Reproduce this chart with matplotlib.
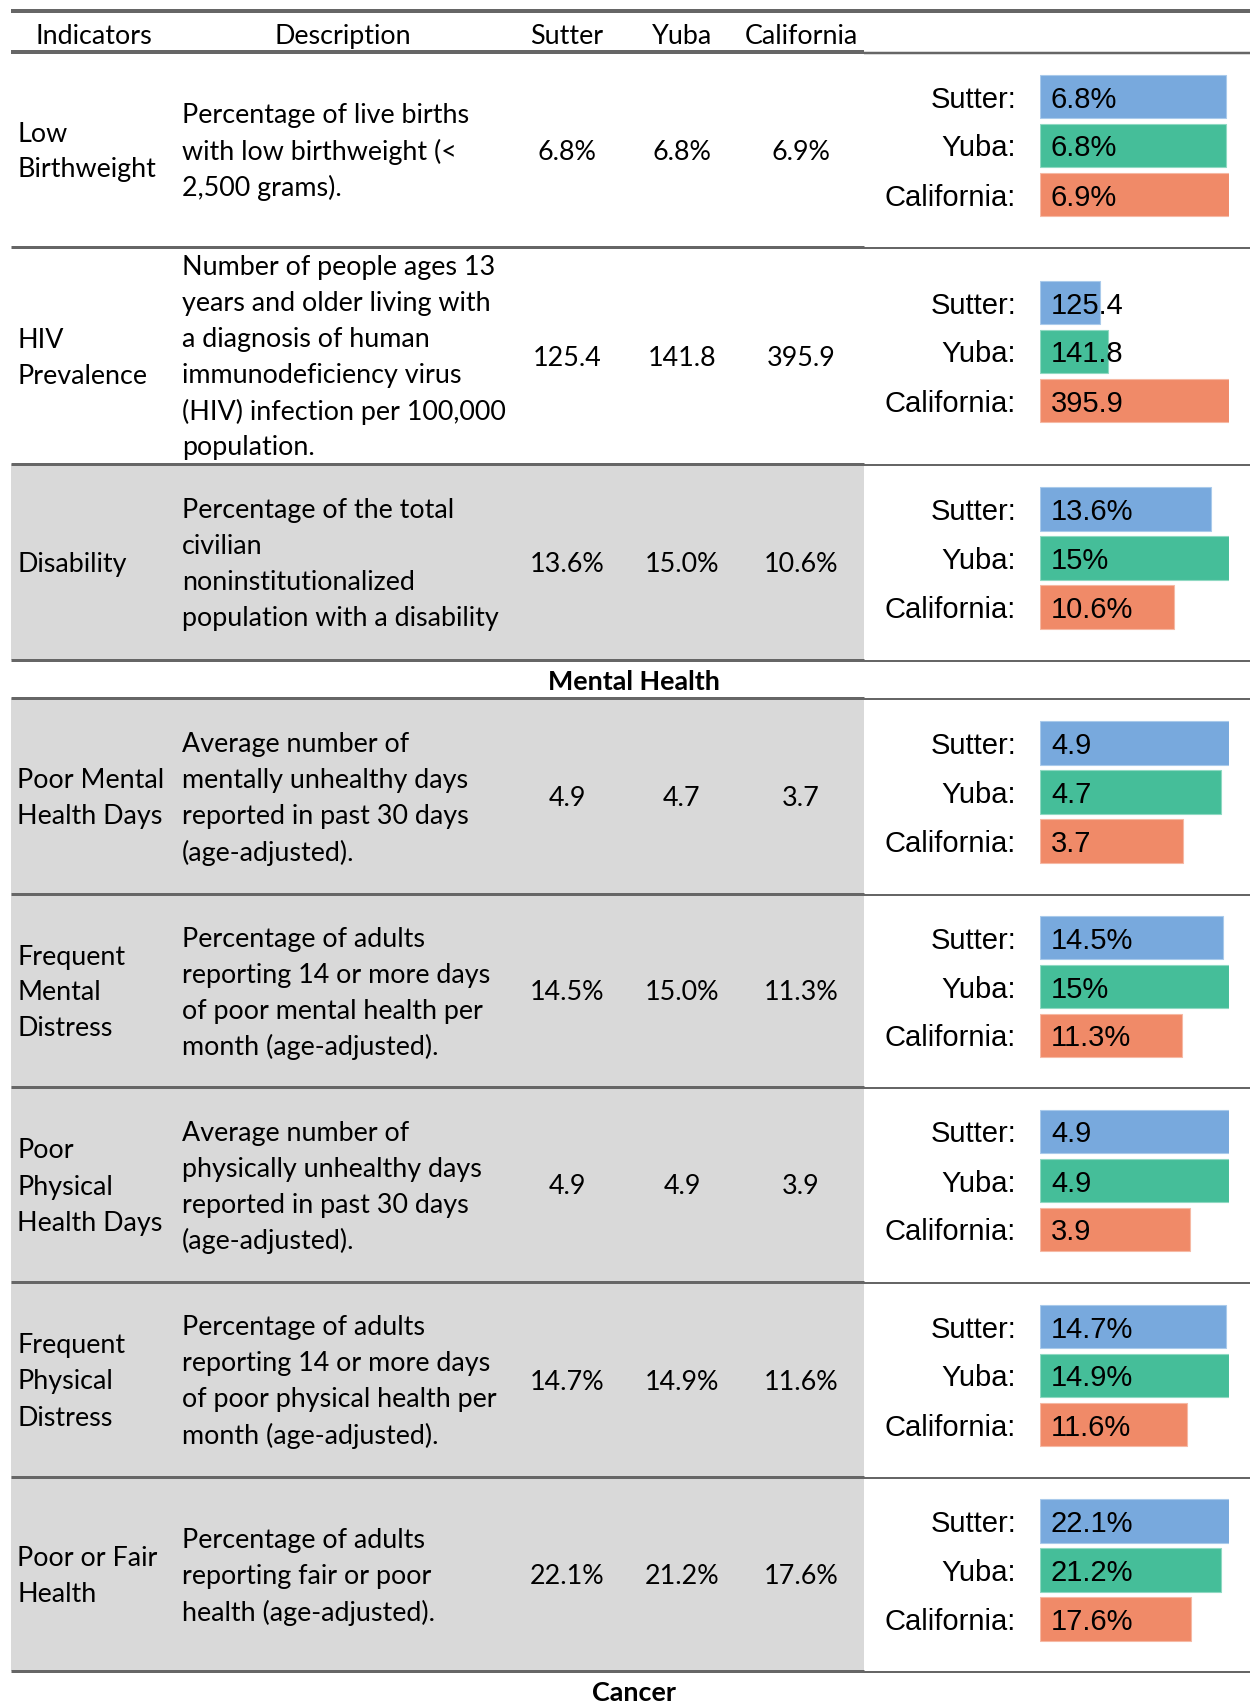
import matplotlib
matplotlib.use("Agg")
import matplotlib.pyplot as plt
from matplotlib.patches import Rectangle

# ---------------- data ----------------
headers = ["Indicators", "Description", "Sutter", "Yuba", "California"]
regions = ["Sutter", "Yuba", "California"]
indicators = [
    "Low\nBirthweight",
    "HIV\nPrevalence",
    "Disability",
    "Poor Mental\nHealth Days",
    "Frequent\nMental\nDistress",
    "Poor\nPhysical\nHealth Days",
    "Frequent\nPhysical\nDistress",
    "Poor or Fair\nHealth",
]
descriptions = [
    "Percentage of live births\nwith low birthweight (<\n2,500 grams).",
    "Number of people ages 13\nyears and older living with\na diagnosis of human\nimmunodeficiency virus\n(HIV) infection per 100,000\npopulation.",
    "Percentage of the total\ncivilian\nnoninstitutionalized\npopulation with a disability",
    "Average number of\nmentally unhealthy days\nreported in past 30 days\n(age-adjusted).",
    "Percentage of adults\nreporting 14 or more days\nof poor mental health per\nmonth (age-adjusted).",
    "Average number of\nphysically unhealthy days\nreported in past 30 days\n(age-adjusted).",
    "Percentage of adults\nreporting 14 or more days\nof poor physical health per\nmonth (age-adjusted).",
    "Percentage of adults\nreporting fair or poor\nhealth (age-adjusted).",
]
sutter = [6.8, 125.4, 13.6, 4.9, 14.5, 4.9, 14.7, 22.1]
yuba = [6.8, 141.8, 15.0, 4.7, 15.0, 4.9, 14.9, 21.2]
california = [6.9, 395.9, 10.6, 3.7, 11.3, 3.9, 11.6, 17.6]
is_percent = [True, False, True, False, True, False, True, True]
shaded = [False, False, True, True, True, True, True, True]
section_titles = ["Mental Health", "Cancer"]

# ---------------- layout (pixels) ----------------
W, H = 1252, 1705
row_top = [52, 247, 464, 698, 894, 1087, 1282, 1477]
row_bot = [247, 464, 660, 894, 1087, 1282, 1477, 1671]
section_y = [680, 1691]
LEFT, SPLIT, RIGHT = 11, 864, 1250
X_IND, X_DESC = 17, 182
X_COLS = [567, 682, 801]
X_HDR = [94, 343] + X_COLS
LS = 36
BX0, BX1 = 1040, 1229
PITCH = 49
LINE_C = "#666666"
GRAY = "#D9D9D9"
COLORS = ["#78A9DD", "#45BE99", "#F08A68"]
EDGES = ["#A9CAEB", "#8FD9C2", "#F6B9A4"]
TFONT = ["Lato", "DejaVu Sans"]
AFONT = ["Liberation Sans", "DejaVu Sans"]

fig = plt.figure(figsize=(W / 100, H / 100), dpi=100)
bg = fig.add_axes([0, 0, 1, 1])
bg.set_xlim(0, W)
bg.set_ylim(H, 0)
bg.axis("off")

# fit table font size so the text widths match the reference
renderer = fig.canvas.get_renderer()
probe = bg.text(0, 0, "Percentage of live births", fontsize=20, family=TFONT)
pw = probe.get_window_extent(renderer).width
probe.remove()
TS = 20 * 288 / pw

def mtext(x, yc, s, ha="left", **kw):
    lines = s.split("\n")
    n = len(lines)
    for i, ln in enumerate(lines):
        bg.text(x, yc + (i - (n - 1) / 2) * LS, ln, ha=ha, va="center_baseline",
                fontsize=TS, family=TFONT, color="black", **kw)

def hline(y, full=False, lw_left=3.0, lw_right=2.0):
    if full:
        bg.plot([LEFT, RIGHT], [y, y], color=LINE_C, lw=lw_left * 0.72,
                solid_capstyle="butt", zorder=3)
    else:
        bg.plot([LEFT, SPLIT], [y, y], color=LINE_C, lw=lw_left * 0.72,
                solid_capstyle="butt", zorder=3)
        bg.plot([SPLIT, RIGHT], [y + 0.5, y + 0.5], color=LINE_C, lw=lw_right * 0.72,
                solid_capstyle="butt", zorder=3)

# header
hline(11, full=True, lw_left=4)
for x, h in zip(X_HDR, headers):
    mtext(x, 34, h, ha="center")
hline(52, lw_left=4, lw_right=2.5)

# rows
for i in range(len(indicators)):
    t, b = row_top[i], row_bot[i]
    yc = (t + b) / 2
    if shaded[i]:
        bg.add_patch(Rectangle((LEFT, t), SPLIT - LEFT, b - t, facecolor=GRAY,
                               edgecolor="none", zorder=1))
    mtext(X_IND, yc, indicators[i])
    mtext(X_DESC, yc, descriptions[i])
    vals = [sutter[i], yuba[i], california[i]]
    suffix = "%" if is_percent[i] else ""
    for x, v in zip(X_COLS, vals):
        mtext(x, yc, f"{v:.1f}{suffix}", ha="center")
    hline(b)

    # bar chart for this row
    gc = yc - 4
    ax = fig.add_axes([BX0 / W, 1 - (gc + 1.5 * PITCH) / H,
                       (BX1 - BX0) / W, 3 * PITCH / H])
    ax.barh(range(3), vals, height=0.89, color=COLORS, edgecolor=EDGES,
            linewidth=0.8)
    ax.set_xlim(0, max(vals))
    ax.set_ylim(2.5, -0.5)
    ax.set_xticks([])
    ax.set_yticks(range(3))
    ax.set_yticklabels([r + ":" for r in regions], fontsize=21, family=AFONT)
    for lab in ax.get_yticklabels():
        lab.set_verticalalignment("center_baseline")
    ax.tick_params(axis="y", length=0, pad=17.3)
    for s in ax.spines.values():
        s.set_visible(False)
    ax.patch.set_alpha(0)
    for j, v in enumerate(vals):
        ax.annotate(f"{v:g}{suffix}", xy=(0, j), xytext=(7.9, 0),
                    textcoords="offset points", ha="left", va="center_baseline",
                    fontsize=21, family=AFONT, color="black")

# section titles
hline(698)
for y, s in zip(section_y, section_titles):
    bg.text(634, y, s, ha="center", va="center_baseline", fontsize=TS,
            family=TFONT, fontweight="bold", color="black")

fig.savefig("out.png", dpi=100)
